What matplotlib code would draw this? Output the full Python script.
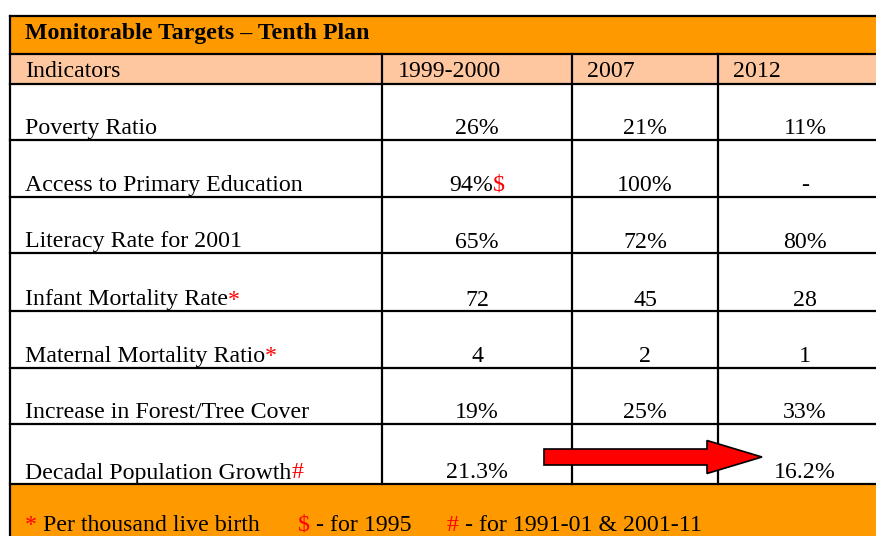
import matplotlib
matplotlib.use("Agg")
import matplotlib.pyplot as plt
from matplotlib.patches import Rectangle, FancyArrow

# ---- data ----
title = "Monitorable Targets \u2013 Tenth Plan"
headers = ["Indicators", "1999-2000", "2007", "2012"]
indicators = ["Poverty Ratio", "Access to Primary Education", "Literacy Rate for 2001",
              "Infant Mortality Rate", "Maternal Mortality Ratio",
              "Increase in Forest/Tree Cover", "Decadal Population Growth"]
indicator_marks = ["", "", "", "*", "*", "", "#"]
values_1999 = ["26%", "94%", "65%", "72", "4", "19%", "21.3%"]
marks_1999 = ["", "$", "", "", "", "", ""]
values_2007 = ["21%", "100%", "72%", "45", "2", "25%", ""]
values_2012 = ["11%", "-", "80%", "28", "1", "33%", "16.2%"]
footnotes = [("*", "Per thousand live birth"), ("$", "- for 1995"), ("#", "- for 1991-01 & 2001-11")]

# ---- layout ----
W, H = 876, 536
fig = plt.figure(figsize=(W / 100, H / 100), dpi=100)
ax = fig.add_axes([0, 0, 1, 1])
ax.set_xlim(0, W)
ax.set_ylim(H, 0)
ax.axis("off")

ORANGE = "#FF9900"
PEACH = "#FFC79F"
RED = "#FF0000"
FONT = "Liberation Serif"
FS = 17.2
LW = 1.6

left, right = 10, 900
col_x = [left, 382, 572, 718, right]
top = 16
title_bot = 54
header_bot = 83.5
row_lines = [header_bot, 139.5, 196.5, 253, 311, 367.5, 424, 484]
footer_bot = 560

ax.add_patch(Rectangle((left, top), right - left, title_bot - top, fc=ORANGE, ec="none"))
ax.add_patch(Rectangle((left, title_bot), right - left, header_bot - title_bot, fc=PEACH, ec="none"))
ax.add_patch(Rectangle((left, row_lines[-1]), right - left, footer_bot - row_lines[-1], fc=ORANGE, ec="none"))

# horizontal lines
for y in [top, title_bot] + row_lines:
    ax.plot([left, right], [y, y], color="black", lw=LW, solid_capstyle="projecting")
# vertical lines
ax.plot([left, left], [top, footer_bot], color="black", lw=LW)
for x in col_x[1:4]:
    ax.plot([x, x], [title_bot, row_lines[-1]], color="black", lw=LW)

fig.canvas.draw()
renderer = fig.canvas.get_renderer()


def esc(s):
    return s.replace("$", r"\$")


def seg_text(x, y, parts, ha="left", **kw):
    """Draw sequential coloured text segments; ha: left or center."""
    texts = []
    for s, c in parts:
        t = ax.text(0, y, esc(s), color=c, va="baseline", ha="left", family=FONT, fontsize=FS, **kw)
        texts.append(t)
    widths = [t.get_window_extent(renderer).width for t in texts]
    total = sum(widths)
    x0 = x - total / 2 if ha == "center" else x
    for t, w in zip(texts, widths):
        t.set_x(x0)
        x0 += w


# title
seg_text(25, 38.5, [(title, "black")], fontweight="bold")
# headers
hdr_x = [25, 398, 587, 733]
for hx, h in zip(hdr_x, headers):
    seg_text(hx, 77, [(h, "black")])

# rows
centers = [(col_x[i] + col_x[i + 1]) / 2 for i in range(1, 4)]
centers[2] = 805
for i, name in enumerate(indicators):
    yb = row_lines[i + 1] - 5.5
    seg_text(25, yb, [(name, "black"), (indicator_marks[i], RED)])
    seg_text(centers[0], yb, [(values_1999[i], "black"), (marks_1999[i], RED)], ha="center")
    if values_2007[i]:
        seg_text(centers[1], yb, [(values_2007[i], "black")], ha="center")
    seg_text(centers[2], yb, [(values_2012[i], "black")], ha="center")

# arrow in the last row from 1999-2000 column to 2012 column
ymid = (row_lines[-2] + row_lines[-1]) / 2 + 3
x_start = col_x[2] - 28
x_end = col_x[3] + 44
ax.add_patch(FancyArrow(x_start, ymid, x_end - x_start, 0, width=16, head_width=33,
                        head_length=55, length_includes_head=True,
                        fc=RED, ec="black", lw=1.2, zorder=5))

# footnotes
foot_x = [25, 298, 447]
for fx, (m, s) in zip(foot_x, footnotes):
    seg_text(fx, 531, [(m, RED), (" " + s, "black")])

fig.savefig("out.png", dpi=100)
